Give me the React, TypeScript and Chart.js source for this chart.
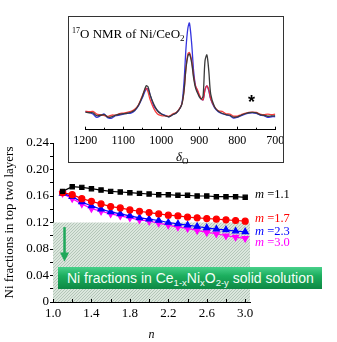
import React, { useEffect, useRef } from 'react';
import { Chart, registerables } from 'chart.js';

Chart.register(...registerables);

// ---------- main chart data ----------
const nValues = [1.1, 1.2, 1.3, 1.4, 1.5, 1.6, 1.7, 1.8, 1.9, 2.0, 2.1, 2.2, 2.3, 2.4, 2.5, 2.6, 2.7, 2.8, 2.9, 3.0];
const m11 = [0.167, 0.174, 0.173, 0.171, 0.169, 0.167, 0.166, 0.165, 0.164, 0.163, 0.162, 0.162, 0.161, 0.161, 0.160, 0.160, 0.159, 0.159, 0.159, 0.158];
const m17 = [0.165, 0.162, 0.156, 0.152, 0.148, 0.144, 0.142, 0.139, 0.137, 0.135, 0.133, 0.131, 0.130, 0.128, 0.127, 0.126, 0.125, 0.124, 0.123, 0.122];
const m23 = [0.164, 0.159, 0.151, 0.145, 0.140, 0.136, 0.133, 0.130, 0.127, 0.125, 0.123, 0.120, 0.118, 0.116, 0.114, 0.112, 0.110, 0.109, 0.107, 0.106];
const m30 = [0.164, 0.156, 0.148, 0.141, 0.137, 0.133, 0.130, 0.127, 0.124, 0.122, 0.119, 0.116, 0.113, 0.111, 0.108, 0.105, 0.103, 0.100, 0.098, 0.096];
const seriesNames = ['m =1.1', 'm =1.7', 'm =2.3', 'm =3.0'];
const solubilityLimit = 0.12;
const xTickValues = [1.0, 1.2, 1.4, 1.6, 1.8, 2.0, 2.2, 2.4, 2.6, 2.8, 3.0];
const xTickLabels = ['1.0', '', '1.4', '', '1.8', '', '2.2', '', '2.6', '', '3.0'];
const yTickValues = [0, 0.02, 0.04, 0.06, 0.08, 0.10, 0.12, 0.14, 0.16, 0.18, 0.20, 0.22, 0.24];
const yTickLabels = ['0', '', '0.04', '', '0.08', '', '0.12', '', '0.16', '', '0.20', '', '0.24'];

// ---------- inset NMR data ----------
const ppm = [1200, 1190, 1180, 1170, 1160, 1150, 1140, 1130, 1120, 1110, 1100, 1090, 1080, 1070, 1060, 1050, 1040, 1035, 1030, 1020, 1010, 1000, 990, 980, 970, 960, 950, 945, 940, 935, 930, 926, 920, 915, 910, 905, 900, 895, 890, 885, 880, 875, 870, 860, 850, 840, 830, 820, 810, 800, 790, 780, 770, 760, 750, 740, 730, 720, 710, 700];
const nmrBlack = [17.5, 17, 17, 14, 14.5, 15, 12.5, 13, 14.5, 15.5, 16, 16.5, 17.5, 19.5, 24.5, 33, 44, 43, 35.7, 25.7, 19, 15.7, 14, 13, 15, 17, 22, 27, 40, 62, 74, 76, 67, 52, 42, 37, 33, 31, 34, 69, 75, 59, 35.7, 23, 18.4, 16.5, 15.2, 14.5, 12.5, 12.8, 14.5, 16, 17, 17.3, 16.8, 15, 14.5, 13.5, 13.8, 14];
const nmrRed = [18.5, 18, 18.3, 15.7, 15, 14, 13.4, 14.7, 14.7, 16, 16.7, 17.4, 18.3, 20.4, 25, 34, 41.7, 38, 30.7, 21.4, 15.7, 14, 14, 13.5, 15.7, 17.4, 22.4, 27, 39, 62, 76, 77.4, 69, 54, 44, 40, 35, 31, 30, 40, 44, 40, 31, 23, 19, 18.4, 16, 15.7, 13.7, 13.7, 15, 16.4, 17.4, 17.7, 17.4, 15.7, 15, 15.7, 15, 15.7];
const nmrBlue = [18, 17.4, 15.7, 12.4, 14, 15.7, 11.7, 11.7, 14, 14.7, 15.7, 16.4, 16.7, 19, 24, 32, 40.7, 41, 35.7, 24, 19, 16, 14.5, 13, 15, 17, 22, 28, 49, 82, 102, 107, 86, 59, 44, 39, 34, 30.7, 30, 40, 44, 39, 30.7, 22, 18, 16, 15, 14, 11.7, 12.4, 14, 15.7, 16.7, 17, 16.4, 14.7, 14, 12.4, 13, 13];
const insetTickValues = [700, 750, 800, 850, 900, 950, 1000, 1050, 1100, 1150, 1200];
const insetTickLabels = ['700', '', '800', '', '900', '', '1000', '', '1100', '', '1200'];

const SERIF = '"Liberation Serif", "Times New Roman", serif';
const SANS = '"Liberation Sans", Arial, sans-serif';

function MainChart() {
  const ref = useRef<HTMLCanvasElement>(null);
  useEffect(() => {
    const canvas = ref.current!;
    const bgPlugin = {
      id: 'bgHatchArrow',
      beforeDatasetsDraw(chart: any) {
        const { ctx, scales } = chart;
        const x = scales.x, y = scales.y;
        const p = document.createElement('canvas');
        p.width = 3; p.height = 3;
        const pc = p.getContext('2d')!;
        pc.fillStyle = '#dbe6dd';
        pc.fillRect(0, 0, 3, 3);
        pc.fillStyle = '#b3c6b8';
        pc.fillRect(2, 0, 1, 1);
        pc.fillRect(1, 1, 1, 1);
        pc.fillRect(0, 2, 1, 1);
        const pattern = ctx.createPattern(p, 'repeat');
        const left = x.getPixelForValue(x.min);
        const right = x.getPixelForValue(x.max);
        const top = y.getPixelForValue(solubilityLimit);
        const bottom = y.getPixelForValue(0);
        ctx.save();
        ctx.fillStyle = pattern;
        ctx.fillRect(left, top, right - left, bottom - top);
        // arrow
        const ax = x.getPixelForValue(1.12);
        const ay0 = y.getPixelForValue(0.113);
        const ay1 = y.getPixelForValue(0.061);
        ctx.strokeStyle = '#1fa85a';
        ctx.fillStyle = '#1fa85a';
        ctx.lineWidth = 2.5;
        ctx.beginPath();
        ctx.moveTo(ax, ay0);
        ctx.lineTo(ax, ay1 - 7);
        ctx.stroke();
        ctx.beginPath();
        ctx.moveTo(ax - 4.5, ay1 - 9);
        ctx.lineTo(ax + 4.5, ay1 - 9);
        ctx.lineTo(ax, ay1);
        ctx.closePath();
        ctx.fill();
        ctx.restore();
      },
      afterDraw(chart: any) {
        const { ctx, scales } = chart;
        const x = scales.x;
        const yb = scales.y.getPixelForValue(0);
        ctx.save();
        ctx.strokeStyle = '#000';
        ctx.lineWidth = 1;
        ctx.beginPath();
        xTickValues.forEach((v) => {
          const px = Math.round(x.getPixelForValue(v)) + 0.5;
          ctx.moveTo(px, yb);
          ctx.lineTo(px, yb - 3);
        });
        ctx.stroke();
        ctx.restore();
      },
    };
    const mk = (vals: number[]) => nValues.map((n, i) => ({ x: n, y: vals[i] }));
    const chart = new Chart(canvas, {
      type: 'line',
      data: {
        datasets: [
          { label: seriesNames[0], data: mk(m11), borderColor: '#000000', backgroundColor: '#000000', pointStyle: 'rect', pointRadius: 3, borderWidth: 1.2 },
          { label: seriesNames[1], data: mk(m17), borderColor: '#ff0000', backgroundColor: '#ff0000', pointStyle: 'circle', pointRadius: 3, borderWidth: 1.2 },
          { label: seriesNames[2], data: mk(m23), borderColor: '#0000ff', backgroundColor: '#0000ff', pointStyle: 'triangle', pointRadius: 3.5, borderWidth: 1.2 },
          { label: seriesNames[3], data: mk(m30), borderColor: '#ff00ff', backgroundColor: '#ff00ff', pointStyle: 'triangle', pointRotation: 180, pointRadius: 3.5, borderWidth: 1.2 },
        ],
      },
      options: {
        animation: false,
        responsive: false,
        maintainAspectRatio: false,
        events: [],
        layout: { padding: { left: 0, top: 143, right: 87, bottom: 0 } },
        plugins: { legend: { display: false }, tooltip: { enabled: false } },
        elements: { point: { borderWidth: 0 }, line: { tension: 0 } },
        scales: {
          x: {
            type: 'linear',
            min: 1.0,
            max: 3.05,
            afterFit: (s: any) => { s.height = 40; },
            afterBuildTicks: (s: any) => { s.ticks = xTickValues.map((v) => ({ value: v })); },
            border: { display: true, color: '#000', width: 1 },
            grid: { display: true, drawOnChartArea: false, drawTicks: false },
            ticks: {
              autoSkip: false,
              maxRotation: 0,
              padding: 4,
              color: '#000',
              font: { family: SERIF, size: 13 },
              callback: (_v: any, i: number) => xTickLabels[i],
            },
            title: { display: true, text: 'n', color: '#000', font: { family: SERIF, size: 12, style: 'italic' }, padding: { top: 0, bottom: 0 } },
          },
          y: {
            type: 'linear',
            min: 0,
            max: 0.24,
            afterFit: (s: any) => { s.width = 53; },
            afterBuildTicks: (s: any) => { s.ticks = yTickValues.map((v) => ({ value: v })); },
            border: { display: true, color: '#000', width: 1 },
            grid: { display: true, drawOnChartArea: false, drawTicks: true, tickLength: 3, color: '#000' },
            ticks: {
              autoSkip: false,
              padding: 1,
              color: '#000',
              font: { family: SERIF, size: 13 },
              callback: (_v: any, i: number) => yTickLabels[i],
            },
            title: { display: true, text: 'Ni fractions in top two layers', color: '#000', font: { family: SERIF, size: 13 }, padding: { top: 2, bottom: 0 } },
          },
        },
      },
      plugins: [bgPlugin],
    } as any);
    return () => chart.destroy();
  }, []);
  return <canvas ref={ref} width={337} height={342} style={{ position: 'absolute', left: 0, top: 0, width: 337, height: 342 }} />;
}

function InsetChart() {
  const ref = useRef<HTMLCanvasElement>(null);
  useEffect(() => {
    const canvas = ref.current!;
    const tickPlugin = {
      id: 'insetTicks',
      afterDraw(chart: any) {
        const { ctx, scales } = chart;
        const x = scales.x;
        const yb = chart.chartArea.bottom;
        ctx.save();
        ctx.strokeStyle = '#000';
        ctx.lineWidth = 1;
        ctx.beginPath();
        insetTickValues.forEach((v, i) => {
          const px = Math.round(x.getPixelForValue(v)) + 0.5;
          ctx.moveTo(px, yb);
          ctx.lineTo(px, yb - (insetTickLabels[i] ? 3 : 2));
        });
        ctx.stroke();
        ctx.restore();
      },
    };
    const mk = (vals: number[]) => ppm.map((p, i) => ({ x: p, y: vals[i] }));
    const chart = new Chart(canvas, {
      type: 'line',
      data: {
        datasets: [
          { data: mk(nmrBlack), borderColor: '#3a3a3a', borderWidth: 1.3, pointRadius: 0 },
          { data: mk(nmrRed), borderColor: 'rgba(245,40,40,0.9)', borderWidth: 1.3, pointRadius: 0 },
          { data: mk(nmrBlue), borderColor: 'rgba(30,30,220,0.9)', borderWidth: 1.3, pointRadius: 0 },
        ],
      },
      options: {
        animation: false,
        responsive: false,
        maintainAspectRatio: false,
        events: [],
        layout: { padding: { left: 16.3, top: 3, right: 7.7, bottom: 0 } },
        plugins: { legend: { display: false }, tooltip: { enabled: false } },
        elements: { line: { tension: 0.3 } },
        scales: {
          x: {
            type: 'linear',
            reverse: true,
            min: 700,
            max: 1200,
            afterFit: (s: any) => { s.height = 32.3; },
            afterBuildTicks: (s: any) => { s.ticks = insetTickValues.map((v) => ({ value: v })); },
            border: { display: true, color: '#000', width: 1 },
            grid: { display: true, drawOnChartArea: false, drawTicks: false },
            ticks: {
              autoSkip: false,
              maxRotation: 0,
              padding: 4,
              color: '#000',
              font: { family: SERIF, size: 12 },
              callback: (_v: any, i: number) => insetTickLabels[i],
            },
          },
          y: { type: 'linear', min: 0, max: 110, display: false },
        },
      },
      plugins: [tickPlugin],
    } as any);
    return () => chart.destroy();
  }, []);
  return <canvas ref={ref} width={214} height={145} style={{ position: 'absolute', left: 0, top: 0, width: 214, height: 145 }} />;
}

const labelColors = ['#000000', '#ff0000', '#0000ff', '#ff00ff'];
const labelTops = [187, 211, 224, 235];

export default function App() {
  useEffect(() => {
    document.body.style.margin = '0';
  }, []);
  const sub = { fontSize: 9.5, verticalAlign: '-3px', lineHeight: 0 } as const;
  return (
    <div style={{ position: 'fixed', left: 0, top: 0, width: 337, height: 342, background: '#fff', overflow: 'hidden' }}>
      <MainChart />
      {seriesNames.map((name, i) => (
        <div key={name} style={{ position: 'absolute', left: 255, top: labelTops[i], fontFamily: SERIF, fontSize: 12.5, lineHeight: '15px', color: labelColors[i], whiteSpace: 'nowrap' }}>
          <i>m</i>{name.slice(1)}
        </div>
      ))}
      <div style={{ position: 'absolute', left: 58, top: 267, width: 264, height: 22, background: 'linear-gradient(#48d08a 0%, #1cae5e 40%, #0d8843 100%)', color: '#f4fff8', fontFamily: SANS, fontSize: 14, lineHeight: '22px', paddingLeft: 9, boxSizing: 'border-box', whiteSpace: 'nowrap' }}>
        Ni fractions in Ce<sub style={sub}>1-x</sub>Ni<sub style={sub}>x</sub>O<sub style={sub}>2-y</sub> solid solution
      </div>
      <div style={{ position: 'absolute', left: 68, top: 16, width: 216, height: 147, border: '1px solid #333', boxSizing: 'border-box', background: '#fff' }}>
        <InsetChart />
        <div style={{ position: 'absolute', left: 3, top: 9, fontFamily: SERIF, fontSize: 13, lineHeight: '15px', color: '#000', whiteSpace: 'nowrap' }}>
          <sup style={{ fontSize: 8, verticalAlign: '5px', lineHeight: 0 }}>17</sup>O NMR of Ni/CeO<sub style={{ fontSize: 9, verticalAlign: '-3px', lineHeight: 0 }}>2</sub>
        </div>
        <div style={{ position: 'absolute', left: 179, top: 76, fontFamily: SANS, fontSize: 18, fontWeight: 'bold', lineHeight: '18px', color: '#000' }}>*</div>
        <div style={{ position: 'absolute', left: 107, top: 132, fontFamily: SERIF, fontSize: 13, lineHeight: '15px', color: '#000', whiteSpace: 'nowrap' }}>
          <i>δ</i><sub style={{ fontSize: 9, verticalAlign: '-3px', lineHeight: 0 }}>O</sub>
        </div>
      </div>
    </div>
  );
}
